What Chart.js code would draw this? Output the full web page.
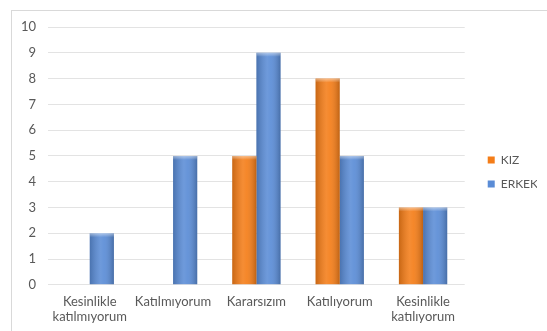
<!DOCTYPE html>
<html><head><meta charset="utf-8">
<script src="https://cdn.jsdelivr.net/npm/chart.js@4/dist/chart.umd.min.js"></script>
<style>
html,body{margin:0;padding:0;background:#fff;}
#frame{position:absolute;left:11px;top:10px;width:545px;height:330px;border:1px solid #d9d9d9;box-sizing:border-box;}
#wrap{position:absolute;left:0;top:0;width:547px;height:331px;}
</style></head><body>
<div id="frame"></div>
<div id="wrap"><canvas id="c" width="547" height="331"></canvas></div>
<script>
const categories = [["Kesinlikle","katılmıyorum"],"Katılmıyorum","Kararsızım","Katılıyorum",["Kesinlikle","katılıyorum"]];
const seriesNames = ["KIZ","ERKEK"];
const kizValues = [0,0,5,8,3];
const erkekValues = [2,5,9,5,3];
const yTicks = [0,1,2,3,4,5,6,7,8,9,10];

const shade = {
  id:'shade',
  beforeDraw(chart){
    const lg = chart.legend;
    if (lg) {
      lg.left = chart.chartArea.right + 11;
      const h = lg.bottom - lg.top;
      lg.top = 172 - h/2; lg.bottom = 172 + h/2;
    }
  },
  afterDatasetsDraw(chart){
    const ctx = chart.ctx;
    chart.data.datasets.forEach((ds,i)=>{
      const meta = chart.getDatasetMeta(i);
      meta.data.forEach(el=>{
        const w = el.width, x0 = el.x - w/2, top = Math.min(el.y, el.base), bot = Math.max(el.y, el.base);
        if (bot - top < 1) return;
        const g = ctx.createLinearGradient(x0,0,x0+w,0);
        g.addColorStop(0,'rgba(0,0,0,0.18)');
        g.addColorStop(0.45,'rgba(255,255,255,0.12)');
        g.addColorStop(0.6,'rgba(255,255,255,0.08)');
        g.addColorStop(1,'rgba(0,0,0,0.22)');
        ctx.save();
        ctx.fillStyle = g;
        ctx.fillRect(x0, top, w, bot-top);
        const g2 = ctx.createLinearGradient(0,top,0,top+4);
        g2.addColorStop(0,'rgba(255,255,255,0.45)');
        g2.addColorStop(1,'rgba(255,255,255,0)');
        ctx.fillStyle = g2;
        ctx.fillRect(x0, top, w, 4);
        ctx.restore();
      });
    });
  }
};

new Chart(document.getElementById('c'), {
  type:'bar',
  data:{
    labels: categories,
    datasets:[
      {label:seriesNames[0], data:kizValues, backgroundColor:'#F47D18', borderWidth:0},
      {label:seriesNames[1], data:erkekValues, backgroundColor:'#5A8CD6', borderWidth:0}
    ]
  },
  options:{
    responsive:false, animation:false, devicePixelRatio:1,
    categoryPercentage:0.58, barPercentage:1.0,
    layout:{padding:{left:9,top:27,right:10,bottom:-3}},
    plugins:{
      legend:{position:'right', align:'center',
        labels:{boxWidth:7, boxHeight:7, padding:12, color:'#595959', font:{family:'Lato', size:12}}},
      tooltip:{enabled:false}
    },
    scales:{
      x:{grid:{display:false, drawTicks:false}, border:{display:false},
         ticks:{color:'#595959', padding:9, maxRotation:0, autoSkip:false, font:{family:'Lato', size:13, lineHeight:1.2}}},
      y:{min:0, max:10, afterBuildTicks(ax){ax.ticks = yTicks.map(v=>({value:v}));},
         grid:{color:'#e3e3e3', drawTicks:false}, border:{display:false},
         ticks:{color:'#595959', padding:12, font:{family:'Lato', size:13}}}
    }
  },
  plugins:[shade]
});
</script>
</body></html>
